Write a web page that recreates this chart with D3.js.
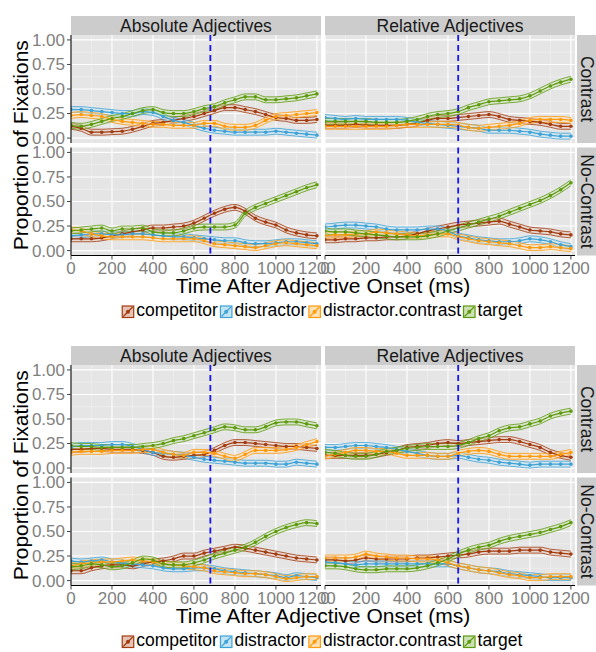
<!DOCTYPE html>
<html>
<head>
<meta charset="utf-8">
<script src="https://cdn.jsdelivr.net/npm/d3@7"></script>
<style>
  body { margin: 0; background: #fff; }
  text { font-family: "Liberation Sans", Arial, sans-serif; }
</style>
</head>
<body>
<svg id="chart"></svg>
<script>
// time bins (ms after adjective onset)
const times = [0, 50, 100, 150, 200, 250, 300, 350, 400, 450, 500, 550, 600,
               650, 700, 750, 800, 850, 900, 950, 1000, 1050, 1100, 1150, 1200];

const series = ["competitor", "distractor", "distractor.contrast", "target"];
const seriesColors = ["#A33B0E", "#3BA3D8", "#FF9A0A", "#5C9C0B"];
const adjectiveTypes = ["Absolute Adjectives", "Relative Adjectives"];
const conditions = ["Contrast", "No-Contrast"];

const xTicks = [0, 200, 400, 600, 800, 1000, 1200];
const xMinor = [100, 300, 500, 700, 900, 1100];
const yTicks = [0, 0.25, 0.5, 0.75, 1];
const yTickLabels = ["0.00", "0.25", "0.50", "0.75", "1.00"];
const yMinor = [0.125, 0.375, 0.625, 0.875];

// mean adjective onset per adjective type (dashed line)
const onsetLines = [680, 650];
// half width of the error ribbon
const seHalf = 0.03;

// rows: competitor, distractor, distractor.contrast, target
const fig1AbsContrast = [
  [0.12,0.10,0.06,0.06,0.065,0.07,0.09,0.12,0.15,0.16,0.18,0.20,0.22,0.25,0.28,0.31,0.31,0.29,0.27,0.24,0.21,0.20,0.18,0.18,0.19],
  [0.29,0.29,0.28,0.27,0.26,0.25,0.25,0.27,0.26,0.22,0.18,0.16,0.13,0.10,0.08,0.07,0.06,0.06,0.06,0.06,0.07,0.06,0.05,0.04,0.03],
  [0.23,0.24,0.23,0.22,0.19,0.17,0.16,0.15,0.14,0.14,0.13,0.13,0.13,0.15,0.15,0.12,0.11,0.11,0.13,0.18,0.22,0.23,0.24,0.25,0.26],
  [0.13,0.12,0.14,0.17,0.20,0.22,0.25,0.28,0.29,0.26,0.25,0.25,0.27,0.30,0.32,0.36,0.39,0.42,0.42,0.39,0.39,0.40,0.41,0.43,0.45]
];
const fig1RelContrast = [
  [0.13,0.13,0.13,0.14,0.13,0.13,0.13,0.13,0.14,0.15,0.18,0.20,0.20,0.21,0.22,0.23,0.24,0.22,0.19,0.18,0.17,0.16,0.14,0.12,0.12],
  [0.21,0.20,0.19,0.20,0.19,0.19,0.19,0.19,0.18,0.16,0.15,0.14,0.13,0.12,0.11,0.10,0.08,0.08,0.08,0.07,0.06,0.04,0.03,0.02,0.02],
  [0.12,0.12,0.12,0.12,0.12,0.12,0.12,0.13,0.14,0.14,0.14,0.14,0.14,0.13,0.11,0.10,0.11,0.12,0.13,0.15,0.18,0.19,0.19,0.19,0.18],
  [0.17,0.17,0.17,0.17,0.17,0.16,0.16,0.16,0.17,0.19,0.22,0.24,0.25,0.27,0.31,0.34,0.37,0.38,0.39,0.40,0.43,0.48,0.53,0.57,0.60]
];
const fig1AbsNoContrast = [
  [0.12,0.12,0.12,0.13,0.15,0.17,0.19,0.21,0.23,0.23,0.24,0.25,0.28,0.33,0.38,0.42,0.44,0.40,0.33,0.29,0.26,0.21,0.18,0.16,0.15],
  [0.15,0.16,0.17,0.17,0.16,0.16,0.17,0.17,0.16,0.15,0.14,0.14,0.13,0.12,0.11,0.10,0.10,0.08,0.07,0.07,0.08,0.09,0.09,0.08,0.07],
  [0.21,0.20,0.17,0.15,0.14,0.14,0.14,0.14,0.13,0.12,0.12,0.12,0.12,0.10,0.07,0.06,0.05,0.04,0.03,0.05,0.07,0.08,0.07,0.06,0.05],
  [0.20,0.21,0.22,0.23,0.20,0.22,0.22,0.23,0.19,0.18,0.18,0.20,0.23,0.24,0.24,0.24,0.26,0.38,0.44,0.48,0.52,0.56,0.60,0.64,0.67]
];
const fig1RelNoContrast = [
  [0.11,0.11,0.12,0.12,0.13,0.13,0.14,0.14,0.15,0.17,0.20,0.22,0.24,0.26,0.27,0.28,0.29,0.30,0.27,0.24,0.21,0.20,0.19,0.17,0.16],
  [0.24,0.25,0.26,0.26,0.25,0.24,0.22,0.21,0.21,0.21,0.22,0.22,0.20,0.15,0.13,0.11,0.10,0.09,0.09,0.10,0.12,0.11,0.09,0.06,0.04],
  [0.15,0.16,0.16,0.17,0.17,0.19,0.18,0.17,0.16,0.15,0.16,0.17,0.17,0.14,0.12,0.10,0.09,0.08,0.07,0.05,0.03,0.03,0.04,0.03,0.02],
  [0.20,0.19,0.19,0.18,0.17,0.16,0.15,0.14,0.14,0.14,0.15,0.17,0.20,0.23,0.26,0.29,0.32,0.35,0.39,0.43,0.47,0.51,0.56,0.62,0.69]
];
const fig2AbsContrast = [
  [0.19,0.19,0.20,0.20,0.19,0.19,0.19,0.18,0.16,0.12,0.11,0.12,0.13,0.14,0.18,0.23,0.26,0.26,0.25,0.24,0.23,0.22,0.22,0.21,0.20],
  [0.21,0.23,0.23,0.23,0.24,0.24,0.22,0.19,0.16,0.15,0.14,0.13,0.11,0.09,0.08,0.07,0.06,0.05,0.05,0.05,0.04,0.04,0.06,0.05,0.04],
  [0.16,0.17,0.17,0.17,0.18,0.18,0.18,0.19,0.19,0.16,0.14,0.13,0.16,0.16,0.15,0.12,0.10,0.14,0.18,0.18,0.18,0.19,0.21,0.24,0.27],
  [0.23,0.22,0.22,0.21,0.21,0.21,0.21,0.22,0.23,0.25,0.28,0.30,0.33,0.36,0.39,0.42,0.41,0.39,0.39,0.42,0.46,0.47,0.47,0.45,0.43]
];
const fig2RelContrast = [
  [0.13,0.13,0.13,0.13,0.13,0.14,0.16,0.18,0.21,0.22,0.23,0.25,0.26,0.25,0.26,0.27,0.28,0.29,0.29,0.27,0.24,0.21,0.16,0.13,0.11],
  [0.21,0.21,0.22,0.23,0.23,0.22,0.21,0.19,0.17,0.15,0.13,0.12,0.12,0.13,0.11,0.09,0.08,0.06,0.05,0.04,0.03,0.04,0.04,0.04,0.04],
  [0.12,0.14,0.16,0.18,0.18,0.17,0.17,0.15,0.13,0.13,0.13,0.12,0.12,0.15,0.17,0.18,0.17,0.14,0.12,0.12,0.12,0.12,0.12,0.14,0.16],
  [0.16,0.15,0.13,0.12,0.12,0.14,0.17,0.18,0.20,0.21,0.22,0.22,0.22,0.23,0.26,0.30,0.33,0.38,0.41,0.42,0.45,0.48,0.53,0.56,0.58]
];
const fig2AbsNoContrast = [
  [0.10,0.10,0.13,0.15,0.16,0.16,0.15,0.17,0.19,0.20,0.22,0.25,0.25,0.28,0.30,0.32,0.34,0.33,0.31,0.29,0.27,0.25,0.23,0.22,0.21],
  [0.20,0.19,0.20,0.21,0.19,0.18,0.17,0.16,0.15,0.13,0.12,0.12,0.13,0.13,0.12,0.10,0.09,0.08,0.07,0.06,0.05,0.03,0.05,0.04,0.03],
  [0.15,0.17,0.18,0.19,0.19,0.20,0.21,0.20,0.19,0.17,0.16,0.15,0.14,0.13,0.10,0.09,0.08,0.07,0.07,0.06,0.04,0.02,0.03,0.04,0.04],
  [0.14,0.15,0.17,0.16,0.14,0.15,0.18,0.22,0.21,0.17,0.16,0.16,0.18,0.21,0.25,0.28,0.31,0.34,0.39,0.45,0.50,0.54,0.57,0.59,0.58]
];
const fig2RelNoContrast = [
  [0.21,0.21,0.20,0.21,0.23,0.22,0.22,0.22,0.22,0.23,0.23,0.24,0.25,0.26,0.27,0.29,0.30,0.30,0.30,0.31,0.31,0.31,0.29,0.28,0.27],
  [0.19,0.18,0.17,0.16,0.17,0.17,0.17,0.17,0.17,0.17,0.17,0.17,0.17,0.15,0.13,0.11,0.10,0.09,0.07,0.06,0.05,0.04,0.03,0.03,0.03],
  [0.23,0.23,0.23,0.24,0.27,0.25,0.24,0.23,0.23,0.22,0.22,0.21,0.18,0.15,0.13,0.11,0.10,0.08,0.06,0.05,0.03,0.03,0.04,0.04,0.04],
  [0.15,0.15,0.14,0.12,0.11,0.11,0.12,0.12,0.12,0.13,0.15,0.18,0.22,0.27,0.31,0.34,0.36,0.40,0.43,0.45,0.47,0.49,0.52,0.55,0.59]
];

// figures -> [row(condition)][col(adjective type)]
const figures = [
  [[fig1AbsContrast, fig1RelContrast], [fig1AbsNoContrast, fig1RelNoContrast]],
  [[fig2AbsContrast, fig2RelContrast], [fig2AbsNoContrast, fig2RelNoContrast]]
];

const W = 596, H = 652;
const figTop = [0, 330];
const colX = [71, 325];
const rowY = [35, 147.5];
const panelW = 250, panelH = 108;

const svg = d3.select("#chart").attr("width", W).attr("height", H);

const x = d3.scaleLinear().domain([0, 1220]).range([0, panelW]);
const y = d3.scaleLinear().domain([-0.05, 1.05]).range([panelH, 0]);

const lineGen = d3.line().x((d, i) => x(times[i])).y(d => y(d)).curve(d3.curveMonotoneX);
const areaGen = d3.area().x((d, i) => x(times[i]))
    .y0(d => y(d - seHalf)).y1(d => y(d + seHalf)).curve(d3.curveMonotoneX);
const edgeLo = d3.line().x((d, i) => x(times[i])).y(d => y(d - seHalf)).curve(d3.curveMonotoneX);
const edgeHi = d3.line().x((d, i) => x(times[i])).y(d => y(d + seHalf)).curve(d3.curveMonotoneX);

const ribbonFill = c => d3.interpolateRgb(c, "#ffffff")(0.7);

svg.append("defs").append("clipPath").attr("id", "panelClip")
  .append("rect").attr("width", panelW).attr("height", panelH);

figures.forEach((fig, fi) => {
  const fg = svg.append("g").attr("transform", `translate(0,${figTop[fi]})`);

  fig.forEach((row, r) => {
    row.forEach((panelData, c) => {
      const g = fg.append("g").attr("transform", `translate(${colX[c]},${rowY[r]})`);

      g.append("rect").attr("width", panelW).attr("height", panelH).attr("fill", "#E5E5E5");

      // grid lines
      g.selectAll(".xminor").data(xMinor).enter().append("line")
        .attr("x1", d => x(d)).attr("x2", d => x(d)).attr("y1", 0).attr("y2", panelH)
        .attr("stroke", "#F2F2F2").attr("stroke-width", 0.6);
      g.selectAll(".yminor").data(yMinor).enter().append("line")
        .attr("x1", 0).attr("x2", panelW).attr("y1", d => y(d)).attr("y2", d => y(d))
        .attr("stroke", "#F2F2F2").attr("stroke-width", 0.6);
      g.selectAll(".xmajor").data(xTicks).enter().append("line")
        .attr("x1", d => x(d)).attr("x2", d => x(d)).attr("y1", 0).attr("y2", panelH)
        .attr("stroke", "#fff").attr("stroke-width", 1.1);
      g.selectAll(".ymajor").data(yTicks).enter().append("line")
        .attr("x1", 0).attr("x2", panelW).attr("y1", d => y(d)).attr("y2", d => y(d))
        .attr("stroke", "#fff").attr("stroke-width", 1.1);

      const dg = g.append("g").attr("clip-path", "url(#panelClip)");

      // ribbons
      panelData.forEach((vals, si) => {
        dg.append("path").datum(vals).attr("d", areaGen)
          .attr("fill", ribbonFill(seriesColors[si])).attr("fill-opacity", 0.45);
        dg.append("path").datum(vals).attr("d", edgeLo)
          .attr("fill", "none").attr("stroke", seriesColors[si]).attr("stroke-width", 0.8);
        dg.append("path").datum(vals).attr("d", edgeHi)
          .attr("fill", "none").attr("stroke", seriesColors[si]).attr("stroke-width", 0.8);
      });
      // mean lines
      panelData.forEach((vals, si) => {
        dg.append("path").datum(vals).attr("d", lineGen)
          .attr("fill", "none").attr("stroke", seriesColors[si]).attr("stroke-width", 1.2);
      });
      // points
      panelData.forEach((vals, si) => {
        dg.selectAll(null).data(vals).enter().append("circle")
          .attr("cx", (d, i) => x(times[i])).attr("cy", d => y(d)).attr("r", 1.8)
          .attr("fill", seriesColors[si]);
      });

      // onset line
      g.append("line")
        .attr("x1", x(onsetLines[c])).attr("x2", x(onsetLines[c]))
        .attr("y1", 0).attr("y2", panelH)
        .attr("stroke", "#1515F5").attr("stroke-width", 1.8)
        .attr("stroke-dasharray", "6,4");

      // y axis on left column
      if (c === 0) {
        g.append("line").attr("x1", 0).attr("x2", 0).attr("y1", 0).attr("y2", panelH)
          .attr("stroke", "#000").attr("stroke-width", 1.1);
        g.selectAll(".ytick").data(yTicks).enter().append("line")
          .attr("x1", -4).attr("x2", 0).attr("y1", d => y(d)).attr("y2", d => y(d))
          .attr("stroke", "#444").attr("stroke-width", 1);
        g.selectAll(".ylab").data(yTicks).enter().append("text")
          .attr("x", -6).attr("y", d => y(d)).attr("dy", "0.35em")
          .attr("text-anchor", "end").attr("font-size", 17).attr("fill", "#7F7F7F")
          .text((d, i) => yTickLabels[i]);
      }
      // x axis on bottom row
      if (r === 1) {
        g.append("line").attr("x1", 0).attr("x2", panelW).attr("y1", panelH).attr("y2", panelH)
          .attr("stroke", "#000").attr("stroke-width", 1.1);
        g.selectAll(".xtick").data(xTicks).enter().append("line")
          .attr("x1", d => x(d)).attr("x2", d => x(d)).attr("y1", panelH).attr("y2", panelH + 4)
          .attr("stroke", "#444").attr("stroke-width", 1);
        g.selectAll(".xlab").data(xTicks).enter().append("text")
          .attr("x", d => x(d)).attr("y", panelH + 18.5)
          .attr("text-anchor", "middle").attr("font-size", 17).attr("fill", "#7F7F7F")
          .text(d => d);
      }
      // top strip
      if (r === 0) {
        g.append("rect").attr("y", -19).attr("width", panelW).attr("height", 19).attr("fill", "#CCCCCC");
        g.append("text").attr("x", panelW / 2).attr("y", -3.5)
          .attr("text-anchor", "middle").attr("font-size", 17.5).attr("fill", "#1a1a1a")
          .text(adjectiveTypes[c]);
      }
      // right strip
      if (c === 1) {
        g.append("rect").attr("x", panelW + 2).attr("width", 19).attr("height", panelH).attr("fill", "#CCCCCC");
        g.append("text")
          .attr("transform", `translate(${panelW + 5.5},${panelH / 2}) rotate(90)`)
          .attr("text-anchor", "middle").attr("font-size", 17.5).attr("fill", "#1a1a1a")
          .text(conditions[r]);
      }
    });
  });

  // axis titles
  fg.append("text")
    .attr("transform", `translate(28,${(rowY[0] + rowY[1] + panelH) / 2}) rotate(-90)`)
    .attr("text-anchor", "middle").attr("font-size", 21).attr("fill", "#000")
    .text("Proportion of Fixations");
  fg.append("text")
    .attr("x", (colX[0] + colX[1] + panelW) / 2).attr("y", 292.5)
    .attr("text-anchor", "middle").attr("font-size", 21).attr("fill", "#000")
    .text("Time After Adjective Onset (ms)");

  // legend
  const lg = fg.append("g");
  const keySize = 12.5;
  let cx = 0;
  series.forEach((s, si) => {
    const item = lg.append("g").attr("transform", `translate(${cx},0)`);
    item.append("rect").attr("x", 0.5).attr("y", 0.5)
      .attr("width", keySize - 1).attr("height", keySize - 1)
      .attr("fill", ribbonFill(seriesColors[si])).attr("stroke", seriesColors[si]).attr("stroke-width", 1.2);
    item.append("line").attr("x1", 1.5).attr("y1", keySize - 1.5).attr("x2", keySize - 1.5).attr("y2", 1.5)
      .attr("stroke", seriesColors[si]).attr("stroke-width", 1.1);
    item.append("circle").attr("cx", keySize / 2).attr("cy", keySize / 2).attr("r", 2)
      .attr("fill", seriesColors[si]);
    const t = item.append("text").attr("x", keySize + 2).attr("y", keySize - 2)
      .attr("font-size", 17.5).attr("fill", "#000").text(s);
    cx += keySize + 2 + t.node().getComputedTextLength() + 2;
  });
  const centre = (colX[0] + colX[1] + panelW) / 2;
  lg.attr("transform", `translate(${centre - cx / 2},305.5)`);
});
</script>
</body>
</html>
